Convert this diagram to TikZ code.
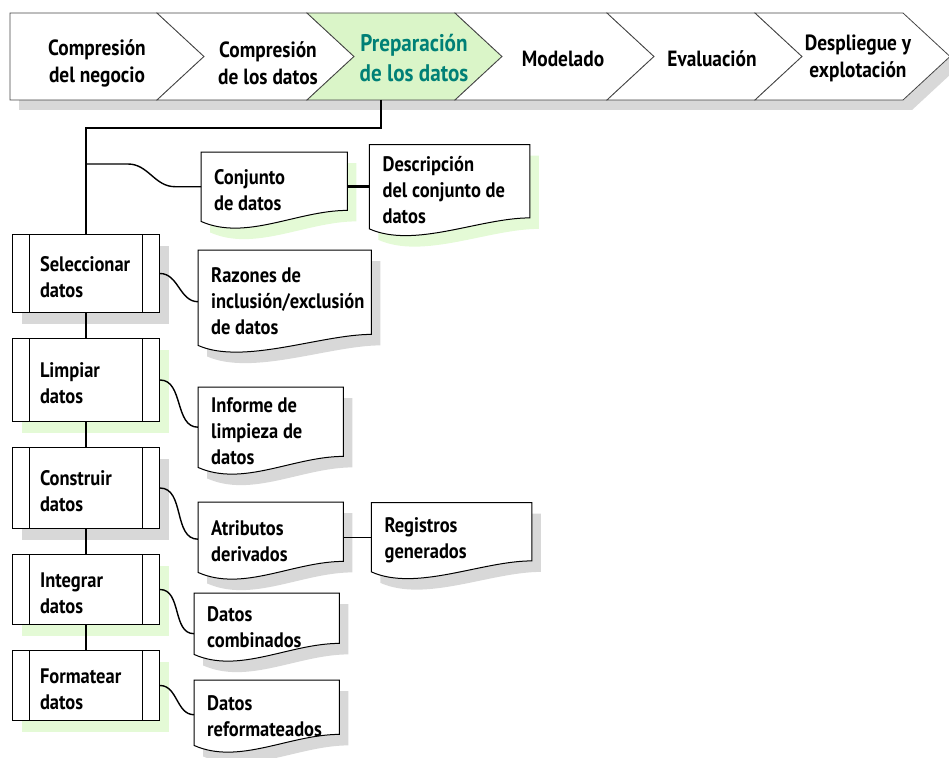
\documentclass[tikz,border=0pt]{standalone}
\usepackage{fontspec}
\setsansfont{PT Sans}[FakeStretch=0.88]
\usetikzlibrary{positioning}
\usetikzlibrary{calc}
\usetikzlibrary{backgrounds}
\usetikzlibrary{shadows}
\definecolor{figVerde}{RGB}{218,245,200}
\definecolor{figVerdeSombra}{RGB}{228,250,214}
\definecolor{figGrisSombra}{RGB}{216,216,216}
\definecolor{figTeal}{RGB}{0,128,118}
\definecolor{figBorde}{RGB}{70,70,70}
\tikzset{
  fase/.style={
    align=center, inner sep=0pt,
    font=\sffamily\bfseries\fontsize{22}{27}\selectfont
  },
  faseactiva/.style={
    fase, text=figTeal,
    font=\sffamily\bfseries\fontsize{24}{30}\selectfont
  },
  proceso/.style={
    rectangle, draw=black, line width=1pt, fill=white,
    minimum width=147pt, text width=92pt, inner xsep=27.5pt,
    align=flush left, font=\sffamily\bfseries\fontsize{21}{26}\selectfont,
    execute at begin node={\rule{0pt}{22pt}},
    path picture={
      \draw[line width=1pt] ([xshift=17pt]path picture bounding box.north west)
        -- ([xshift=17pt]path picture bounding box.south west);
      \draw[line width=1pt] ([xshift=-17pt]path picture bounding box.north east)
        -- ([xshift=-17pt]path picture bounding box.south east);
    }
  },
  documento/.style={
    rectangle, inner xsep=13pt, inner ysep=0pt, align=flush left,
    font=\sffamily\bfseries\fontsize{21}{26}\selectfont,
    execute at begin node={\rule{0pt}{22pt}}
  },
  sombra/.style={shadow xshift=9pt, shadow yshift=-11pt, opacity=1},
  hoja/.style={draw=black, line width=1pt, fill=white},
  espina/.style={line width=2.6pt},
  enlace/.style={line width=1.4pt}
}
% contorno de hoja con borde inferior ondulado
\newcommand{\hojadoc}[2]{%
  \draw[hoja, drop shadow={sombra, fill=#2}]
    (#1.north west) -- (#1.north east) -- ([yshift=11pt]#1.south east)
    .. controls ([xshift=-50pt,yshift=11pt]#1.south east)
            and ([xshift=45pt,yshift=-20pt]#1.south west) .. (#1.south west) -- cycle;}

\begin{document}
\begin{tikzpicture}[x=1pt, y=-1pt]
  \useasboundingbox (0,0) rectangle (949,757);

  % barra de fases
  \path[drop shadow={shadow xshift=9pt, shadow yshift=-10pt, opacity=1, fill=figGrisSombra}]
    (10,13) -- (903,13) -- (950,56.5) -- (903,100) -- (10,100) -- cycle;
  \foreach \xa/\xb/\mx/\col in {10/157/0/white, 157/307/47/white, 307/455/47/figVerde,
                                455/607/47/white, 607/755/47/white, 755/903/47/white}
    \draw[figBorde, line width=0.8pt, fill=\col] (\xa,13) -- (\xb,13) -- (\xb+47,56.5)
      -- (\xb,100) -- (\xa,100) -- (\xa+\mx,56.5) -- cycle;
  \node[fase] (fase1) at (97,63) {Compresión\\del negocio};
  \node[fase] (fase2) at (268,63) {Compresión\\de los datos};
  \node[faseactiva] (fase3) at (414,58) {Preparación\\de los datos};
  \node[fase] (fase4) at (563,59) {Modelado};
  \node[fase] (fase5) at (712,59) {Evaluación};
  \node[fase] (fase6) at (858,58) {Despliegue y\\explotación};
  \coordinate (salida) at (381,100);

  % tareas
  \node[proceso, anchor=north west, minimum height=78pt,
        drop shadow={sombra, fill=figGrisSombra}] (selec) at (12,234) {Seleccionar\\datos};
  \node[proceso, below=25pt of selec, minimum height=83pt,
        drop shadow={sombra, fill=figVerdeSombra}] (limpiar) {Limpiar\\datos};
  \node[proceso, below=25pt of limpiar, minimum height=81pt,
        drop shadow={sombra, fill=figGrisSombra}] (construir) {Construir\\datos};
  \node[proceso, below=25pt of construir, minimum height=70pt,
        drop shadow={sombra, fill=figVerdeSombra}] (integrar) {Integrar\\datos};
  \node[proceso, below=25pt of integrar, minimum height=70pt,
        drop shadow={sombra, fill=figVerdeSombra}] (formatear) {Formatear\\datos};

  % salidas
  \node[documento, anchor=north west, text width=120pt, minimum height=69pt] (conjunto)
    at (201,152) {Conjunto\\de datos};
  \node[documento, right=22pt of conjunto, text width=134pt, minimum height=84pt] (descripcion)
    {Descripción\\del conjunto de\\datos};
  \node[documento, anchor=north west, text width=147pt, minimum height=95pt] (razones)
    at (198,250) {Razones de\\inclusión/exclusión\\de datos};
  \node[documento, anchor=north west, text width=119pt, minimum height=80pt] (informe)
    at (198,387) {Informe de\\limpieza de\\datos};
  \node[documento, anchor=north west, text width=119pt, minimum height=70pt] (atributos)
    at (198,502) {Atributos\\derivados};
  \node[documento, right=28pt of atributos, text width=134pt, minimum height=69pt] (registros)
    {Registros\\generados};
  \node[documento, anchor=north west, text width=119pt, minimum height=61pt] (combinados)
    at (194,593) {Datos\\combinados};
  \node[documento, anchor=north west, text width=119pt, minimum height=65pt] (reformateados)
    at (194,680) {Datos\\reformateados};

  \begin{scope}[on background layer]
    \foreach \n/\c in {conjunto/figVerdeSombra, descripcion/figVerdeSombra,
                       razones/figGrisSombra, informe/figGrisSombra,
                       atributos/figGrisSombra, registros/figGrisSombra,
                       combinados/figGrisSombra, reformateados/figGrisSombra}
      \hojadoc{\n}{\c};
  \end{scope}

  % conexiones
  \coordinate (codo) at (selec.north |- 0,128);
  \coordinate (rama) at (selec.north |- 0,164);
  \draw[espina] (salida) |- (codo) -- (selec.north);
  \foreach \a/\b in {selec/limpiar, limpiar/construir, construir/integrar, integrar/formatear}
    \draw[espina] (\a) -- (\b);
  \draw[enlace] (rama) -- ++(42,0) to[out=0,in=180] ([xshift=-26pt]conjunto.west) -- (conjunto.west);
  \foreach \a/\b/\dy in {selec/razones/-4, limpiar/informe/0, construir/atributos/-2,
                         integrar/combinados/-10, formatear/reformateados/-2}
    \draw[enlace] (\a.east) to[out=0,in=180] ([yshift=\dy pt]\b.west);
  \draw[enlace, line width=3.5pt] (conjunto.east) -- (descripcion.west);
  \draw[enlace] (atributos.east) -- (registros.west);
\end{tikzpicture}
\end{document}
